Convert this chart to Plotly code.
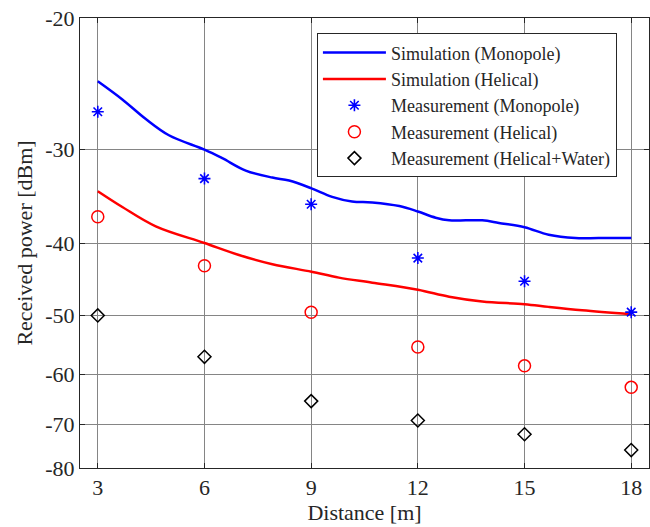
import numpy as np
import plotly.graph_objects as go

# ---- data ----
meas_dist = [3, 6, 9, 12, 15, 18]
meas_monopole = [-26.7, -32.8, -35.5, -41.9, -45.0, -49.5]
meas_helical = [-36.9, -42.9, -49.5, -55.1, -58.4, -62.4]
meas_helical_water = [-50.0, -56.8, -65.1, -69.1, -72.1, -75.7]

sim_mono_dist = [3.0, 3.69, 4.35, 5.0, 6.0, 6.5, 7.16, 7.91, 8.38, 9.01, 9.59, 10.15,
                 10.72, 11.48, 12.0, 12.5, 12.88, 13.81, 14.28, 15.0, 15.68, 16.43, 17.08, 18.0]
sim_mono_dbm = [-24.3, -25.7, -27.3, -28.7, -30.0, -30.8, -32.0, -32.7, -33.0, -33.8, -34.7, -35.2,
                -35.3, -35.7, -36.3, -37.0, -37.3, -37.3, -37.6, -38.1, -39.0, -39.4, -39.4, -39.4]

sim_hel_dist = [3.0, 3.69, 4.63, 6.0, 6.97, 7.91, 9.01, 9.78, 10.72, 12.0, 12.88, 13.81,
                15.0, 15.68, 16.62, 18.0]
sim_hel_dbm = [-34.1, -35.8, -38.0, -40.0, -41.5, -42.7, -43.7, -44.5, -45.2, -46.2, -47.2, -47.9,
               -48.3, -48.7, -49.2, -49.8]

y_ticks = [-20, -30, -40, -50, -60, -70, -80]
x_ticks = [3, 6, 9, 12, 15, 18]

# The axis is logarithmic in |dBm| (plotted as magnitude, reversed, labelled negative)
def mag(v):
    return [-a for a in v]

FONT = "Liberation Serif, Times New Roman, serif"
TXT = "#262626"

fig = go.Figure()
fig.add_trace(go.Scatter(x=sim_mono_dist, y=mag(sim_mono_dbm), mode="lines",
                         line=dict(color="#0000ff", width=2.5, shape="spline", smoothing=1.0),
                         name="Simulation (Monopole)"))
fig.add_trace(go.Scatter(x=sim_hel_dist, y=mag(sim_hel_dbm), mode="lines",
                         line=dict(color="#ff0000", width=2.5, shape="spline", smoothing=1.0),
                         name="Simulation (Helical)"))
fig.add_trace(go.Scatter(x=meas_dist, y=mag(meas_monopole), mode="markers",
                         marker=dict(symbol="asterisk-open", size=10, color="#0000ff",
                                     line=dict(color="#0000ff", width=1.6)),
                         name="Measurement (Monopole)"))
fig.add_trace(go.Scatter(x=meas_dist, y=mag(meas_helical), mode="markers",
                         marker=dict(symbol="circle-open", size=12, color="#ff0000",
                                     line=dict(color="#ff0000", width=1.5)),
                         name="Measurement (Helical)"))
fig.add_trace(go.Scatter(x=meas_dist, y=mag(meas_helical_water), mode="markers",
                         marker=dict(symbol="diamond-open", size=10, color="#000000",
                                     line=dict(color="#000000", width=1.5)),
                         name="Measurement (Helical+Water)"))

fig.update_layout(
    width=650, height=527,
    margin=dict(l=80, r=1, t=18, b=59),
    paper_bgcolor="white", plot_bgcolor="white",
    font=dict(family=FONT, size=21, color=TXT),
    showlegend=True,
    legend=dict(x=0.68, y=0.966, xanchor="center", yanchor="top",
                bgcolor="white", bordercolor=TXT, borderwidth=1,
                font=dict(family=FONT, size=18, color=TXT),
                tracegroupgap=0, itemwidth=63),
)
fig.update_xaxes(
    range=[2.5, 18.5], tickvals=x_ticks, ticktext=[str(t) for t in x_ticks],
    showgrid=True, gridcolor="#858585", gridwidth=1,
    showline=True, linecolor=TXT, linewidth=1, mirror="ticks",
    ticks="inside", ticklen=5, tickcolor=TXT, zeroline=False, automargin=False,
    title=dict(text="Distance [m]", standoff=2, font=dict(family=FONT, size=22, color=TXT)),
    tickfont=dict(family=FONT, size=22, color=TXT),
)
fig.update_yaxes(
    type="log", range=[np.log10(80), np.log10(20)],
    tickvals=mag(y_ticks), ticktext=[str(t) for t in y_ticks],
    showgrid=True, gridcolor="#858585", gridwidth=1,
    showline=True, linecolor=TXT, linewidth=1, mirror="ticks",
    ticks="inside", ticklen=5, tickcolor=TXT, zeroline=False, automargin=False,
    title=dict(text="Received power [dBm]", standoff=6, font=dict(family=FONT, size=22, color=TXT)),
    tickfont=dict(family=FONT, size=22, color=TXT),
)

fig.write_html("out.html",
               config={"displayModeBar": False},
               post_script="document.body.style.margin='0';document.body.style.padding='0';"
                           "window.dispatchEvent(new Event('resize'));")
